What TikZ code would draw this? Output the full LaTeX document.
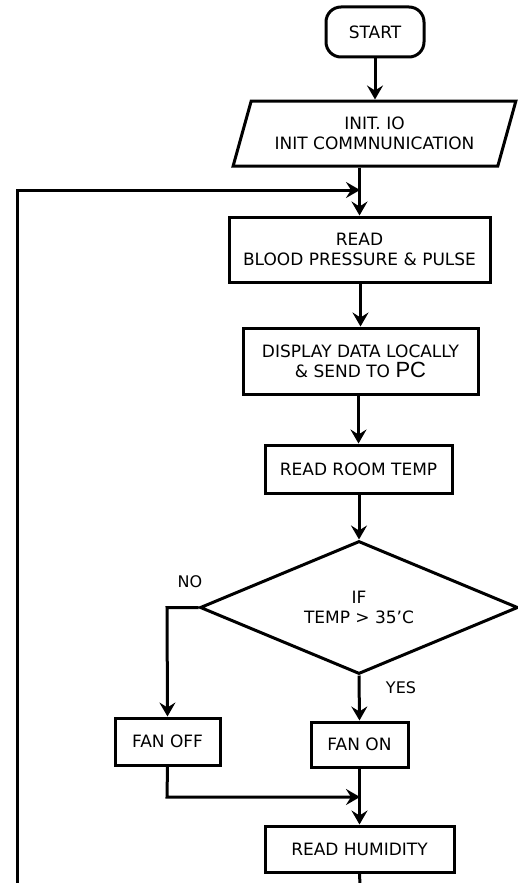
\documentclass[tikz,border=0pt]{standalone}
\usepackage{fontspec}
\setmainfont{DejaVu Sans}
\newfontfamily\pcfont{Liberation Sans}
\usetikzlibrary{shapes.geometric,arrows.meta}
\tikzset{
  every node/.style={font=\fontsize{17}{20}\selectfont, text=black, inner sep=0pt},
  boxnode/.style={draw, line width=3pt, rectangle, align=center},
  termnode/.style={draw, line width=3pt, rectangle, rounded corners=15pt, align=center},
  ionode/.style={draw, line width=3pt, trapezium, trapezium left angle=66, trapezium right angle=114, trapezium stretches=true, align=center},
  decnode/.style={draw, line width=3pt, diamond, shape aspect=2.4, align=center},
  conn/.style={line width=3pt, -{Stealth[length=14pt,width=16pt,inset=5pt]}},
  plainconn/.style={line width=3pt},
  lbl/.style={font=\fontsize{16}{19}\selectfont}
}
\begin{document}
\begin{tikzpicture}[x=1pt,y=-1pt]
\useasboundingbox (0,0) rectangle (518,883);
\node[termnode, minimum width=98pt, minimum height=50pt] (start) at (375,32) {START};
\node[ionode, minimum width=283pt, minimum height=65pt] (init) at (374.5,133.5) {INIT. IO\\INIT COMMNUNICATION};
\node[boxnode, minimum width=261pt, minimum height=65pt] (read) at (359.5,249.5) {READ\\BLOOD PRESSURE \& PULSE};
\node[boxnode, minimum width=235pt, minimum height=66pt] (disp) at (360.5,361) {DISPLAY DATA LOCALLY\\\& SEND TO {\pcfont\fontsize{22}{20}\selectfont PC}\hspace{20pt}};
\node[boxnode, minimum width=187pt, minimum height=48pt] (temp) at (358.5,469) {READ ROOM TEMP};
\node[decnode, minimum width=318pt, minimum height=133pt] (dec) at (359,607.5) {IF\\TEMP > 35'C};
\node[boxnode, minimum width=105pt, minimum height=47pt] (fanoff) at (167.5,741.5) {FAN OFF};
\node[boxnode, minimum width=97pt, minimum height=45pt] (fanon) at (359.5,744.5) {FAN ON};
\node[boxnode, minimum width=189pt, minimum height=46pt] (hum) at (359.5,849) {READ HUMIDITY};
\node[lbl] (no) at (190,582) {NO};
\node[lbl] (yes) at (401,688) {YES};
\coordinate (loopstart) at (17,885);
\coordinate (loopturn) at (17,190);
\coordinate (loopend) at (360,190);
\coordinate (humend) at (360,885);
\coordinate (noturn) at (167,607.5);
\coordinate (offturn) at (167,797);
\coordinate (merge) at (360,797);
% connectors
\draw[conn] (start.south) -- (start.south |- init.north);
\draw[conn] (init.south -| read.north) -- (read.north);
\draw[conn] (read.south -| disp.north) -- (disp.north);
\draw[conn] (disp.south -| temp.north) -- (temp.north);
\draw[conn] (temp.south -| dec.north) -- (dec.north);
\draw[conn] (dec.west) -- (noturn) -- (fanoff.north);
\draw[conn] (dec.south) -- (fanon.north);
\draw[conn] (fanoff.south) -- (offturn) -- (merge);
\draw[conn] (fanon.south) -- (hum.north);
\draw[plainconn] (hum.south) -- (humend);
\draw[conn] (loopstart) -- (loopturn) -- (loopend);
\end{tikzpicture}
\end{document}
